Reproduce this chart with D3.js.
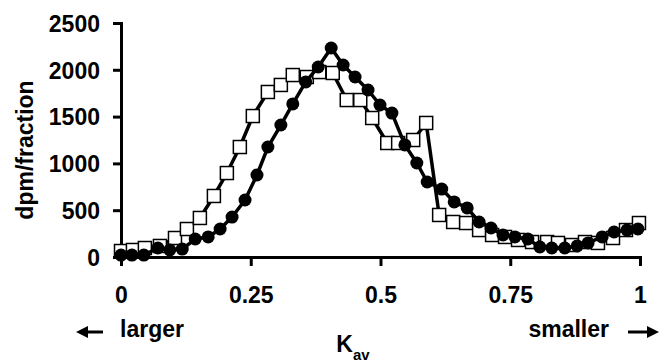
<!DOCTYPE html>
<html><head><meta charset="utf-8">
<script src="https://cdn.jsdelivr.net/npm/d3@7"></script>
<style>
html,body{margin:0;padding:0;background:#fff;}
svg{display:block;font-family:"Liberation Sans",Arial,sans-serif;font-weight:bold;}
</style></head>
<body>
<svg id="chart" width="661" height="364"></svg>
<script>
const xTicks = [0, 0.25, 0.5, 0.75, 1];
const xTickLabels = ["0", "0.25", "0.5", "0.75", "1"];
const yTicks = [0, 500, 1000, 1500, 2000, 2500];

const kavSquares = [0.000,0.023,0.046,0.075,0.104,0.127,0.152,0.179,0.204,0.229,0.254,0.283,0.308,0.331,0.358,0.382,0.408,0.435,0.461,0.484,0.513,0.534,0.563,0.588,0.613,0.640,0.665,0.690,0.715,0.740,0.765,0.792,0.821,0.842,0.869,0.894,0.919,0.948,0.973,0.998];
const dpmSquares = [64,75,96,118,203,299,417,652,897,1175,1506,1763,1838,1944,1923,1976,1966,1677,1677,1485,1218,1218,1250,1432,449,374,363,288,235,214,182,160,160,150,128,160,150,203,288,363];

const kavCircles = [0.000,0.021,0.044,0.071,0.094,0.118,0.143,0.168,0.191,0.214,0.239,0.262,0.283,0.308,0.331,0.356,0.380,0.405,0.428,0.451,0.476,0.499,0.522,0.547,0.570,0.590,0.618,0.642,0.667,0.690,0.713,0.736,0.759,0.784,0.807,0.830,0.855,0.879,0.900,0.927,0.950,0.975,0.996];
const dpmCircles = [21,21,21,96,75,85,192,214,299,427,609,876,1175,1410,1635,1870,2030,2233,2051,1923,1784,1624,1538,1197,1004,801,726,588,524,374,310,235,214,192,107,96,96,118,150,214,267,288,299];

const svg = d3.select("#chart");
const x = d3.scaleLinear().domain([0, 1]).range([121, 640]);
const y = d3.scaleLinear().domain([0, 2500]).range([257, 23]);
const FS = 23;

// axes
const yAxis = svg.append("g").attr("transform", "translate(121,0)")
  .call(d3.axisLeft(y).tickValues(yTicks).tickSize(8).tickSizeOuter(0).tickPadding(13).tickFormat(d3.format("d")));
const xAxis = svg.append("g").attr("transform", "translate(0,257)")
  .call(d3.axisBottom(x).tickValues(xTicks).tickSize(9).tickSizeOuter(0).tickPadding(21).tickFormat((d,i)=>xTickLabels[i]));
[yAxis, xAxis].forEach(g => {
  g.select(".domain").attr("stroke", "#000").attr("stroke-width", 3).attr("stroke-linecap", "square");
  g.selectAll(".tick line").attr("stroke", "#000").attr("stroke-width", 3);
  g.selectAll(".tick text").attr("fill", "#000").attr("font-size", FS).attr("font-weight", "bold")
    .attr("font-family", "'Liberation Sans', Arial, sans-serif");
});
yAxis.selectAll(".tick text").attr("dy", "0.36em");

// lines
const sqData = kavSquares.map((k, i) => [k, dpmSquares[i]]);
const ciData = kavCircles.map((k, i) => [k, dpmCircles[i]]);
const line = d3.line().x(d => x(d[0])).y(d => y(d[1]));

svg.append("path").datum(sqData).attr("d", line).attr("fill", "none")
  .attr("stroke", "#000").attr("stroke-width", 3.5).attr("stroke-linejoin", "round");
svg.append("g").selectAll("rect").data(sqData).join("rect")
  .attr("x", d => x(d[0]) - 6.5).attr("y", d => y(d[1]) - 6.5)
  .attr("width", 13).attr("height", 13)
  .attr("fill", "#fff").attr("stroke", "#000").attr("stroke-width", 1.5);

svg.append("path").datum(ciData).attr("d", line).attr("fill", "none")
  .attr("stroke", "#000").attr("stroke-width", 3.5).attr("stroke-linejoin", "round");
svg.append("g").selectAll("circle").data(ciData).join("circle")
  .attr("cx", d => x(d[0])).attr("cy", d => y(d[1])).attr("r", 6.5)
  .attr("fill", "#000");

// y axis title
svg.append("text").attr("transform", "translate(33,150) rotate(-90)")
  .attr("text-anchor", "middle").attr("font-size", FS).text("dpm/fraction");

// x axis title K_av
const kt = svg.append("text").attr("x", 353).attr("y", 352).attr("text-anchor", "middle").attr("font-size", FS);
kt.append("tspan").text("K");
kt.append("tspan").attr("font-size", 15).attr("dy", 8).text("av");

// arrows and labels
svg.append("text").attr("x", 120).attr("y", 337).attr("font-size", FS).text("larger");
svg.append("text").attr("x", 609).attr("y", 337).attr("text-anchor", "end").attr("font-size", FS).text("smaller");

function arrow(x1, x2, yy) {
  const dir = Math.sign(x2 - x1);
  svg.append("line").attr("x1", x1).attr("x2", x2 - dir * 8).attr("y1", yy).attr("y2", yy)
    .attr("stroke", "#000").attr("stroke-width", 3);
  svg.append("path")
    .attr("d", `M${x2},${yy} L${x2 - dir * 12},${yy - 6} L${x2 - dir * 12},${yy + 6} Z`)
    .attr("fill", "#000");
}
arrow(103, 76, 332);
arrow(628, 659, 332);
</script>
</body></html>
